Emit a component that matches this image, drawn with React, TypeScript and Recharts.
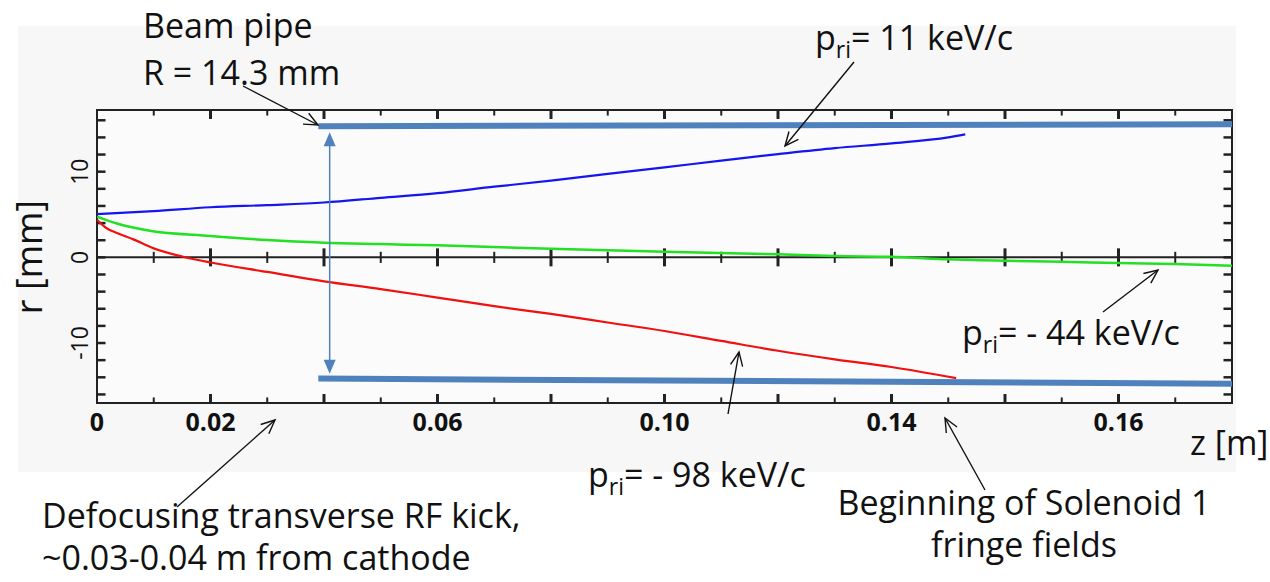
import React from 'react';
import {
  ComposedChart,
  Line,
  XAxis,
  YAxis,
  ReferenceArea,
  ReferenceLine,
} from 'recharts';

// axis ticks as printed on the original figure
const zTicks = [0, 0.02, 0.06, 0.1, 0.14, 0.18];
const zTickLabels = ['0', '0.02', '0.06', '0.10', '0.14', '0.16'];
const rTicks = [-10, 0, 10];
const zMinor = [0.01, 0.02, 0.03, 0.04, 0.05, 0.06, 0.07, 0.08, 0.09, 0.1, 0.11, 0.12, 0.13, 0.14, 0.15, 0.16, 0.17, 0.18, 0.19];
const rMinor = [-16, -14, -12, -10, -8, -6, -4, -2, 0, 2, 4, 6, 8, 10, 12, 14, 16];

// p_ri = 11 keV/c (blue)
const blueZ = [0, 0.01, 0.02, 0.03, 0.04, 0.05, 0.06, 0.07, 0.08, 0.09, 0.1, 0.11, 0.12, 0.13, 0.14, 0.15, 0.153];
const blueR = [5.05, 5.4, 5.85, 6.1, 6.4, 6.95, 7.5, 8.25, 8.95, 9.75, 10.5, 11.3, 12.05, 12.75, 13.3, 14.0, 14.35];

// p_ri = -44 keV/c (green)
const greenZ = [0, 0.0035, 0.0093, 0.02, 0.03, 0.04, 0.05, 0.06, 0.08, 0.1, 0.12, 0.13, 0.14, 0.15, 0.16, 0.17, 0.18, 0.19, 0.2];
const greenR = [4.75, 3.95, 3.1, 2.5, 2.02, 1.71, 1.55, 1.4, 1.0, 0.66, 0.35, 0.15, 0.07, -0.23, -0.4, -0.5, -0.67, -0.78, -0.98];

// p_ri = -98 keV/c (red)
const redZ = [0, 0.0017, 0.0035, 0.0064, 0.01, 0.015, 0.02, 0.03, 0.04, 0.05, 0.06, 0.07, 0.08, 0.09, 0.1, 0.11, 0.12, 0.13, 0.14, 0.1514];
const redR = [4.4, 3.4, 2.85, 2.1, 1.05, 0.1, -0.6, -1.7, -2.8, -3.7, -4.7, -5.7, -6.6, -7.6, -8.6, -9.75, -10.9, -11.9, -12.8, -14.1];

// beam pipe walls
const topPipeZ = [0.039, 0.2];
const topPipeR = [15.3, 15.55];
const bottomPipeZ = [0.039, 0.2];
const bottomPipeR = [-14.15, -14.75];

// radius arrow position
const radiusZ = 0.041;
const radiusR = [14.6, -13.6];

const toRows = (z: number[], r: number[]) => z.map((v, i) => ({ z: v, r: r[i] }));

const blueData = toRows(blueZ, blueR);
const greenData = toRows(greenZ, greenR);
const redData = toRows(redZ, redR);
const topPipe = toRows(topPipeZ, topPipeR);
const bottomPipe = toRows(bottomPipeZ, bottomPipeR);

const FONT = '"Open Sans", sans-serif';
const PIPE = '#4f81bd';
const FS = 34;

function YTick(props: any) {
  const { x, y, payload } = props;
  return (
    <g transform={`translate(${x - 1},${y}) rotate(-90)`}>
      <text textAnchor="middle" fontFamily={FONT} fontSize={23} fill="#111">
        {payload.value}
      </text>
    </g>
  );
}

function DoubleArrow(props: any) {
  const { x1, y1, x2, y2 } = props;
  const top = Math.min(y1, y2);
  const bot = Math.max(y1, y2);
  return (
    <g>
      <line x1={x1} y1={top + 10} x2={x2} y2={bot - 10} stroke={PIPE} strokeWidth={1.5} />
      <path d={`M${x1},${top} L${x1 - 6},${top + 14} L${x1 + 6},${top + 14} Z`} fill={PIPE} />
      <path d={`M${x1},${bot} L${x1 - 6},${bot - 14} L${x1 + 6},${bot - 14} Z`} fill={PIPE} />
    </g>
  );
}

function Arrow({ x1, y1, x2, y2 }: { x1: number; y1: number; x2: number; y2: number }) {
  const a = Math.atan2(y2 - y1, x2 - x1);
  const L = 15;
  const s = 0.42;
  const ax = x2 - L * Math.cos(a - s);
  const ay = y2 - L * Math.sin(a - s);
  const bx = x2 - L * Math.cos(a + s);
  const by = y2 - L * Math.sin(a + s);
  return (
    <g stroke="#111" strokeWidth={1.4} fill="none">
      <line x1={x1} y1={y1} x2={x2} y2={y2} />
      <polyline points={`${ax},${ay} ${x2},${y2} ${bx},${by}`} />
    </g>
  );
}

function Pri({ x, y, rest }: { x: number; y: number; rest: string }) {
  return (
    <text x={x} y={y} fontFamily={FONT} fontSize={FS} fill="#111">
      p
      <tspan dy={8} fontSize={23}>ri</tspan>
      <tspan dy={-8}>{rest}</tspan>
    </text>
  );
}

export default function App() {
  return (
    <div style={{ position: 'absolute', left: 0, top: 0, width: 1270, height: 582, background: '#fff' }}>
      <div style={{ position: 'absolute', left: 18, top: 26, width: 1218, height: 446, background: '#f7f7f7' }} />
      <div style={{ position: 'absolute', left: 0, top: 0 }}>
        <ComposedChart width={1270} height={582} margin={{ top: 110, right: 38, bottom: 149, left: 57 }}>
          <XAxis
            type="number"
            dataKey="z"
            domain={[0, 0.2]}
            ticks={zTicks}
            interval={0}
            tickFormatter={(v: number) => zTickLabels[zTicks.indexOf(v)]}
            tick={{ fontFamily: FONT, fontSize: 25, fontWeight: 700, fill: '#111' }}
            tickLine={false}
            axisLine={false}
            tickMargin={4}
            height={30}
            allowDataOverflow
          />
          <YAxis
            type="number"
            dataKey="r"
            domain={[-17, 17.2]}
            ticks={rTicks}
            tick={<YTick />}
            tickLine={false}
            axisLine={false}
            width={40}
            allowDataOverflow
          />
          <ReferenceArea x1={0} x2={0.2} y1={-17} y2={17.2} fill="#fbfbfb" fillOpacity={1} stroke="#222" strokeWidth={2} ifOverflow="visible" />

          {zMinor.map((z, i) => {
            const major = i % 2 === 1;
            const h = major ? 1.05 : 0.65;
            return (
              <React.Fragment key={`zt${i}`}>
                <ReferenceLine segment={[{ x: z, y: 17.2 }, { x: z, y: 17.2 - h }]} stroke="#222" strokeWidth={major ? 3 : 2} ifOverflow="visible" />
                <ReferenceLine segment={[{ x: z, y: -17 }, { x: z, y: -17 + h }]} stroke="#222" strokeWidth={major ? 3 : 2} ifOverflow="visible" />
                <ReferenceLine segment={[{ x: z, y: -h }, { x: z, y: h }]} stroke="#222" strokeWidth={major ? 3 : 2} ifOverflow="visible" />
              </React.Fragment>
            );
          })}
          {rMinor.map((r, i) => (
            <React.Fragment key={`rt${i}`}>
              <ReferenceLine segment={[{ x: 0, y: r }, { x: 0.0015, y: r }]} stroke="#222" strokeWidth={2.5} ifOverflow="visible" />
              <ReferenceLine segment={[{ x: 0.2, y: r }, { x: 0.2 - 0.0015, y: r }]} stroke="#222" strokeWidth={2.5} ifOverflow="visible" />
            </React.Fragment>
          ))}
          <ReferenceLine y={0} stroke="#222" strokeWidth={2} ifOverflow="visible" />

          <Line data={greenData} dataKey="r" type="monotone" stroke="#22e022" strokeWidth={2.5} dot={false} isAnimationActive={false} />
          <Line data={redData} dataKey="r" type="monotone" stroke="#f01010" strokeWidth={2.2} dot={false} isAnimationActive={false} />
          <Line data={blueData} dataKey="r" type="monotone" stroke="#1515f0" strokeWidth={2.2} dot={false} isAnimationActive={false} />
          <Line data={topPipe} dataKey="r" type="linear" stroke={PIPE} strokeWidth={6} dot={false} isAnimationActive={false} />
          <Line data={bottomPipe} dataKey="r" type="linear" stroke={PIPE} strokeWidth={6} dot={false} isAnimationActive={false} />
          <ReferenceLine
            segment={[{ x: radiusZ, y: radiusR[0] }, { x: radiusZ, y: radiusR[1] }]}
            ifOverflow="visible"
            shape={(p: any) => <DoubleArrow {...p} />}
          />
        </ComposedChart>
      </div>

      <svg width={1270} height={582} style={{ position: 'absolute', left: 0, top: 0, pointerEvents: 'none' }}>
        <text x={143} y={38} fontFamily={FONT} fontSize={FS} fill="#111">Beam pipe</text>
        <text x={143} y={85} fontFamily={FONT} fontSize={FS} fill="#111">R = 14.3 mm</text>
        <Arrow x1={243} y1={86} x2={318} y2={125} />

        <Pri x={815} y={50} rest="= 11 keV/c" />
        <Arrow x1={854} y1={62} x2={785} y2={146} />

        <Pri x={962} y={345} rest="= - 44 keV/c" />
        <Arrow x1={1103} y1={312} x2={1158} y2={270} />

        <Pri x={588} y={487} rest="= - 98 keV/c" />
        <Arrow x1={728} y1={414} x2={739} y2={352} />

        <text x={1190} y={455} fontFamily={FONT} fontSize={FS} fill="#111">z [m]</text>

        <text x={1024} y={515} textAnchor="middle" fontFamily={FONT} fontSize={FS} fill="#111">Beginning of Solenoid 1</text>
        <text x={1024} y={557} textAnchor="middle" fontFamily={FONT} fontSize={FS} fill="#111">fringe fields</text>
        <Arrow x1={985} y1={490} x2={945} y2={418} />

        <text x={42} y={528} fontFamily={FONT} fontSize={FS} fill="#111">Defocusing transverse RF kick,</text>
        <text x={42} y={570} fontFamily={FONT} fontSize={FS} fill="#111">~0.03-0.04 m from cathode</text>
        <Arrow x1={177} y1={507} x2={275} y2={420} />

        <g transform="translate(42,257) rotate(-90)">
          <text textAnchor="middle" fontFamily={FONT} fontSize={36} fill="#111">r [mm]</text>
        </g>
      </svg>
    </div>
  );
}
